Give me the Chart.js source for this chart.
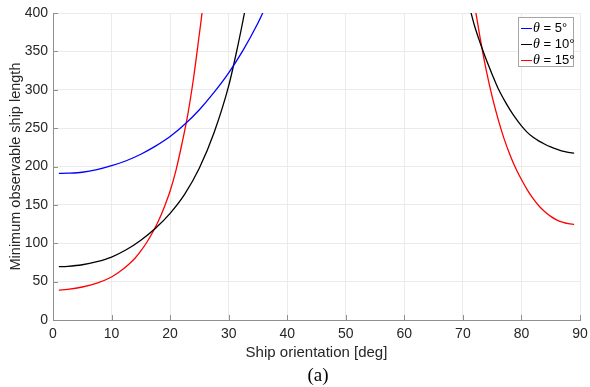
<!DOCTYPE html>
<html>
<head>
<meta charset="utf-8">
<script src="https://cdn.jsdelivr.net/npm/chart.js@4"></script>
<style>
  html, body { margin: 0; padding: 0; background: #fff; }
  #wrap { position: relative; width: 590px; height: 387px; }
  #legend {
    position: absolute; left: 518px; top: 17px; width: 56px; height: 50px;
    box-sizing: border-box; border: 1px solid #a6a6a6; background: #fff;
    padding-top: 2px; font: 13px "Liberation Sans", Arial, sans-serif; color: #000;
  }
  .row { height: 16px; line-height: 16px; white-space: nowrap; }
  .sw { display: inline-block; width: 11px; height: 0; border-top: 1.4px solid; vertical-align: middle; margin: 0 1px 0 2px; }
  .row i { font-family: "Liberation Serif", serif; font-size: 14px; }
  #caption {
    position: absolute; left: 258px; width: 120px; top: 364px; text-align: center;
    font: 19px "Liberation Serif", "Times New Roman", serif; color: #000;
  }
</style>
</head>
<body>
<div id="wrap">
  <canvas id="chart" width="590" height="387"></canvas>
  <div id="legend"></div>
  <div id="caption">(a)</div>
</div>
<script>
const thetas = [5, 10, 15];
const colors = ["#0000ff", "#000000", "#ff0000"];

// theta = 5 deg
const x5 = [1, 2.5, 5, 7.5, 10, 12.5, 15, 17.5, 20, 22.5, 25, 27.5, 30, 32.5, 35, 36, 37];
const y5 = [191, 191.3, 192.5, 195.8, 201, 207.5, 216, 226.5, 239, 255, 274, 296.5, 322, 352, 387, 403, 420];

// theta = 10 deg (left branch, gap, right branch)
const x10 = [1, 2.5, 5, 7.5, 10, 12.5, 15, 17.5, 20, 22.5, 25, 27.5, 30, 31.5, 32.7, 33.3,
             50,
             71, 72, 73, 74, 75, 76, 77, 78, 79, 80, 81, 82, 83, 84, 85, 86, 87, 88, 89];
const y10 = [69.5, 70, 72, 76, 82, 91.5, 104, 119.5, 139, 164, 198, 244, 305, 355, 400, 425,
             null,
             412, 383, 360, 339, 320, 302, 287.5, 274.5, 263, 253, 244.5, 238, 233, 229, 225.5, 222.5, 220, 218.5, 217.5];

// theta = 15 deg
const x15 = [1, 2.5, 5, 7.5, 10, 11, 12, 13, 14, 15, 16, 17, 18, 19, 20, 21, 22, 23, 24, 25, 25.45, 26,
             50,
             71.7, 72, 73, 74, 75, 76, 77, 78, 79, 80, 81, 82, 83, 84, 85, 86, 87, 88, 89];
const y15 = [39, 40, 43, 48, 56, 61, 66.5, 73, 80.5, 90, 101, 114, 129, 147, 168, 195, 229, 267, 315, 373, 400, 440,
             null,
             425, 410, 365, 325, 291, 262, 237, 216, 198, 183, 169.5, 158, 148.5, 141, 135, 130.5, 127.5, 125.5, 124.5];

const xTicks = [0, 10, 20, 30, 40, 50, 60, 70, 80, 90];
const yTicks = [0, 50, 100, 150, 200, 250, 300, 350, 400];

const seriesX = [x5, x10, x15];
const seriesY = [y5, y10, y15];

const axisColor = "#8f8f8f";
const textColor = "#262626";
const gridColor = "#ebebeb";

const datasets = thetas.map((t, i) => ({
    label: "θ = " + t + "°",
    data: seriesX[i].map((x, j) => ({ x: x, y: seriesY[i][j] })),
    borderColor: colors[i],
    backgroundColor: colors[i],
    borderWidth: 1.3,
    pointRadius: 0,
    cubicInterpolationMode: "monotone",
    spanGaps: false
}));

// MATLAB style tick marks pointing into the plot
const innerTicks = {
    id: "innerTicks",
    afterDatasetsDraw(chart) {
        const { ctx, chartArea, scales } = chart;
        ctx.save();
        ctx.strokeStyle = axisColor;
        ctx.lineWidth = 1;
        ctx.beginPath();
        scales.x.ticks.forEach(t => {
            const px = Math.round(scales.x.getPixelForValue(t.value)) + 0.5;
            ctx.moveTo(px, chartArea.bottom);
            ctx.lineTo(px, chartArea.bottom - 5);
        });
        scales.y.ticks.forEach(t => {
            const py = Math.round(scales.y.getPixelForValue(t.value)) + 0.5;
            ctx.moveTo(chartArea.left, py);
            ctx.lineTo(chartArea.left + 5, py);
        });
        ctx.stroke();
        ctx.restore();
    }
};

const chart = new Chart(document.getElementById("chart"), {
    type: "line",
    data: { datasets: datasets },
    options: {
        responsive: false,
        animation: false,
        layout: { padding: { top: 13, right: 10, left: 0, bottom: 0 } },
        plugins: {
            legend: { display: false },
            tooltip: { enabled: false }
        },
        scales: {
            x: {
                type: "linear",
                min: 0,
                max: 90,
                afterFit: s => { s.height = 67; s.paddingLeft = 0; s.paddingRight = 0; },
                afterBuildTicks: s => { s.ticks = xTicks.map(v => ({ value: v })); },
                grid: { color: gridColor, drawTicks: false },
                border: { color: axisColor, width: 1 },
                ticks: { padding: 6, color: textColor, font: { family: "'Liberation Sans', Arial", size: 14 } },
                title: {
                    display: true,
                    text: "Ship orientation [deg]",
                    color: textColor,
                    padding: { top: 0, bottom: 25 },
                    font: { family: "'Liberation Sans', Arial", size: 15 }
                }
            },
            y: {
                min: 0,
                max: 400,
                afterFit: s => { s.width = 53; s.paddingTop = 0; s.paddingBottom = 0; },
                afterBuildTicks: s => { s.ticks = yTicks.map(v => ({ value: v })); },
                grid: { color: gridColor, drawTicks: false },
                border: { color: axisColor, width: 1 },
                ticks: { padding: 5, color: textColor, font: { family: "'Liberation Sans', Arial", size: 14 } },
                title: {
                    display: true,
                    text: "Minimum observable ship length",
                    color: textColor,
                    padding: { top: 7, bottom: 0 },
                    font: { family: "'Liberation Sans', Arial", size: 14.5 }
                }
            }
        }
    },
    plugins: [innerTicks]
});

// legend box inside the axes, top right
const legend = document.getElementById("legend");
chart.data.datasets.forEach((ds, i) => {
    const row = document.createElement("div");
    row.className = "row";
    row.innerHTML = '<span class="sw" style="border-color:' + ds.borderColor + '"></span><i>θ</i> = ' + thetas[i] + "°";
    legend.appendChild(row);
});
</script>
</body>
</html>
